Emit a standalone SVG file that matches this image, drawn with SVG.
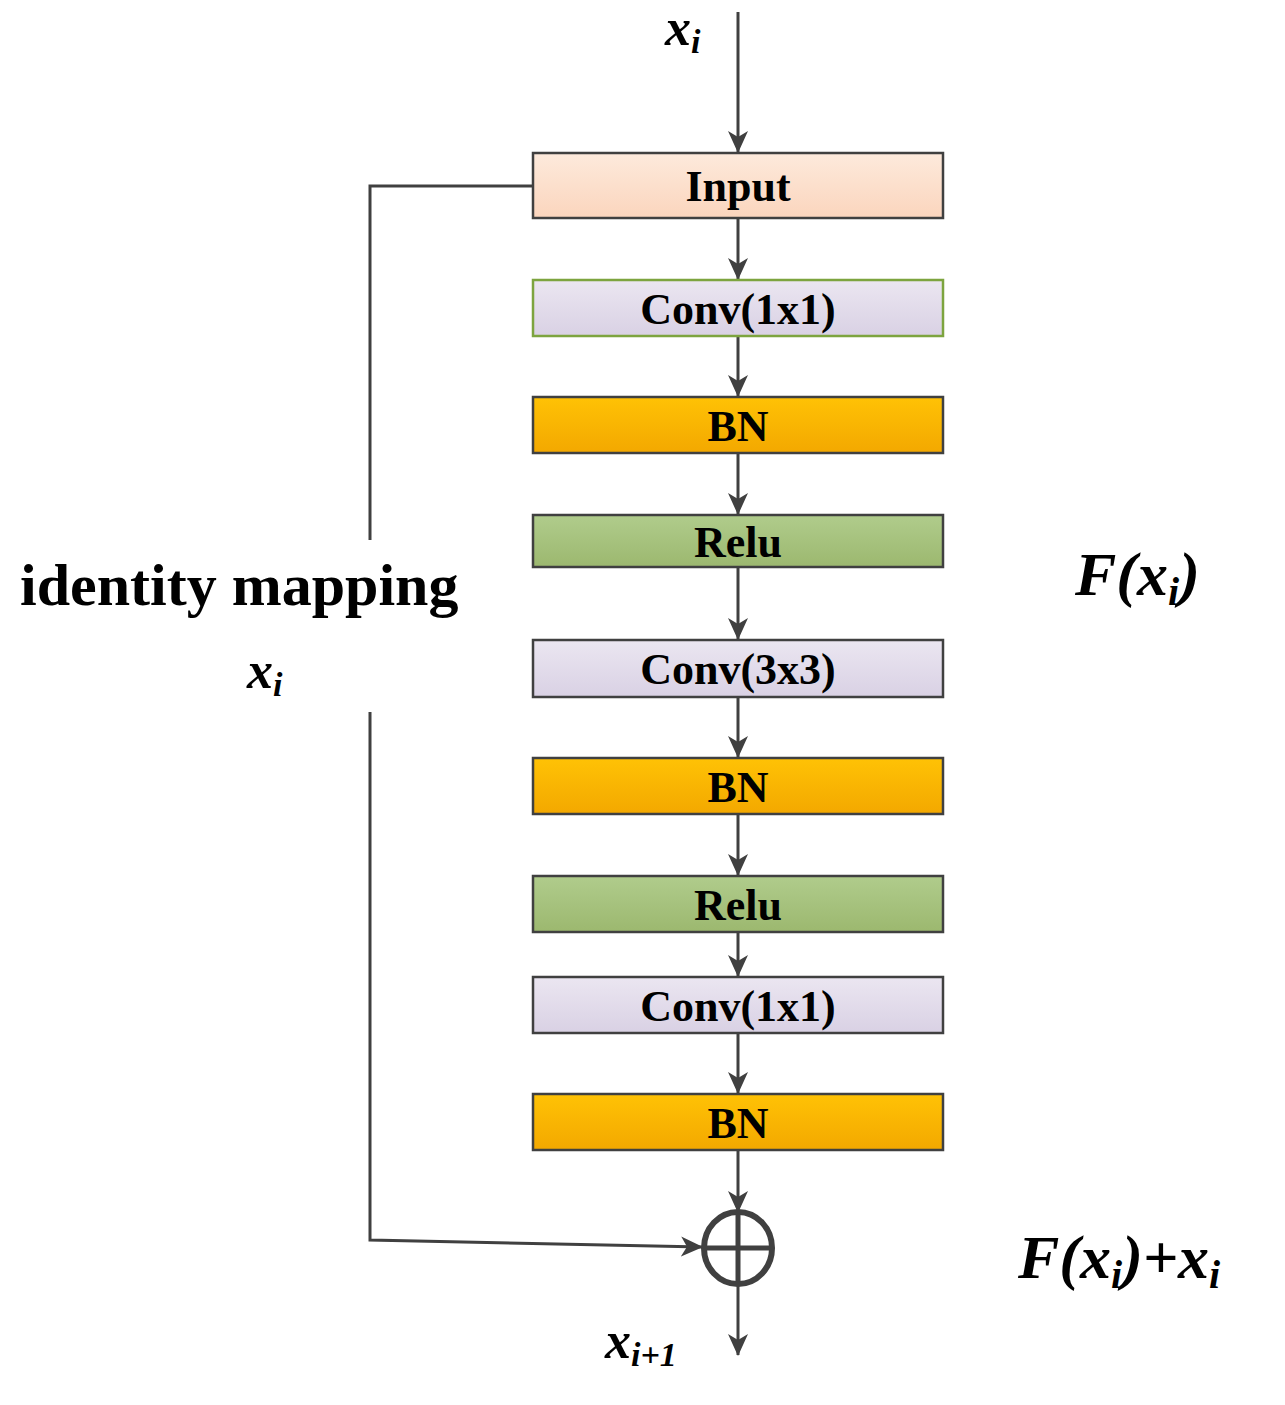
<svg xmlns="http://www.w3.org/2000/svg" width="1285" height="1405" viewBox="0 0 1285 1405">
<style>
.b{stroke:#404040;stroke-width:2.5}
.t{font-family:"Liberation Serif",serif;font-weight:bold;font-size:44px;text-anchor:middle;fill:#000}
.m{font-family:"Liberation Serif",serif;font-weight:bold;font-style:italic;fill:#000}
.c{stroke:#404040;stroke-width:3;fill:none}
</style>
<defs>
<linearGradient id="gi" x1="0" y1="0" x2="0" y2="1"><stop offset="0" stop-color="#fdeadc"/><stop offset="1" stop-color="#fbd5bd"/></linearGradient>
<linearGradient id="gc" x1="0" y1="0" x2="0" y2="1"><stop offset="0" stop-color="#ebe6f1"/><stop offset="1" stop-color="#d9d1e4"/></linearGradient>
<linearGradient id="gb" x1="0" y1="0" x2="0" y2="1"><stop offset="0" stop-color="#ffc205"/><stop offset="1" stop-color="#f3a800"/></linearGradient>
<linearGradient id="gr" x1="0" y1="0" x2="0" y2="1"><stop offset="0" stop-color="#b0cc8c"/><stop offset="1" stop-color="#9cb86f"/></linearGradient>
<marker id="a" markerWidth="10" markerHeight="10" refX="9" refY="5" orient="auto" markerUnits="userSpaceOnUse" viewBox="0 0 10 10"><path d="M0,0 L10,5 L0,10 L3,5 Z" fill="#404040"/></marker>
<marker id="ah" markerWidth="22" markerHeight="22" refX="21" refY="11" orient="auto" markerUnits="userSpaceOnUse" viewBox="0 0 22 22"><path d="M0,1 L22,11 L0,21 L6,11 Z" fill="#404040"/></marker>
</defs>
<g id="connectors">
<path class="c" d="M738,12 V152" marker-end="url(#ah)"/>
<path class="c" d="M738,218 V279" marker-end="url(#ah)"/>
<path class="c" d="M738,336 V396" marker-end="url(#ah)"/>
<path class="c" d="M738,453 V514" marker-end="url(#ah)"/>
<path class="c" d="M738,567 V639" marker-end="url(#ah)"/>
<path class="c" d="M738,697 V757" marker-end="url(#ah)"/>
<path class="c" d="M738,814 V875" marker-end="url(#ah)"/>
<path class="c" d="M738,932 V976" marker-end="url(#ah)"/>
<path class="c" d="M738,1033 V1093" marker-end="url(#ah)"/>
<path class="c" d="M738,1150 V1212" marker-end="url(#ah)"/>
<path class="c" d="M738,1284 V1355" marker-end="url(#ah)"/>
<path class="c" d="M533,186 H370 V540"/>
<path class="c" d="M370,712 V1240 L702,1247" marker-end="url(#ah)"/>
</g>
<g id="input"><rect x="533" y="153" width="410" height="65" fill="url(#gi)" class="b"/><text class="t" x="738" y="201">Input</text></g>
<g id="conv1"><rect x="533" y="280" width="410" height="56" fill="url(#gc)" stroke="#7da43f" stroke-width="2.5"/><text class="t" x="738" y="324">Conv(1x1)</text></g>
<g id="bn1"><rect x="533" y="397" width="410" height="56" fill="url(#gb)" class="b"/><text class="t" x="738" y="441">BN</text></g>
<g id="relu1"><rect x="533" y="515" width="410" height="52" fill="url(#gr)" class="b"/><text class="t" x="738" y="557">Relu</text></g>
<g id="conv2"><rect x="533" y="640" width="410" height="57" fill="url(#gc)" class="b"/><text class="t" x="738" y="684">Conv(3x3)</text></g>
<g id="bn2"><rect x="533" y="758" width="410" height="56" fill="url(#gb)" class="b"/><text class="t" x="738" y="802">BN</text></g>
<g id="relu2"><rect x="533" y="876" width="410" height="56" fill="url(#gr)" class="b"/><text class="t" x="738" y="920">Relu</text></g>
<g id="conv3"><rect x="533" y="977" width="410" height="56" fill="url(#gc)" class="b"/><text class="t" x="738" y="1021">Conv(1x1)</text></g>
<g id="bn3"><rect x="533" y="1094" width="410" height="56" fill="url(#gb)" class="b"/><text class="t" x="738" y="1138">BN</text></g>
<g id="add"><ellipse cx="738" cy="1248" rx="34" ry="36" fill="none" stroke="#404040" stroke-width="6"/><path d="M704,1248 H772 M738,1212 V1284" stroke="#404040" stroke-width="5"/></g>
<g id="labels">
<text class="m" x="665" y="45" font-size="52">x<tspan font-size="34" dy="8">i</tspan></text>
<text x="20" y="605" font-family="Liberation Serif,serif" font-weight="bold" font-size="60">identity mapping</text>
<text class="m" x="247" y="688" font-size="52">x<tspan font-size="34" dy="8">i</tspan></text>
<text class="m" x="1075" y="595" font-size="62">F(x<tspan font-size="40" dy="10">i</tspan><tspan dy="-10">)</tspan></text>
<text class="m" x="1018" y="1278" font-size="62">F(x<tspan font-size="40" dy="10">i</tspan><tspan dy="-10">)+x</tspan><tspan font-size="40" dy="10">i</tspan></text>
<text class="m" x="605" y="1358" font-size="52">x<tspan font-size="34" dy="8">i+1</tspan></text>
</g>
</svg>
